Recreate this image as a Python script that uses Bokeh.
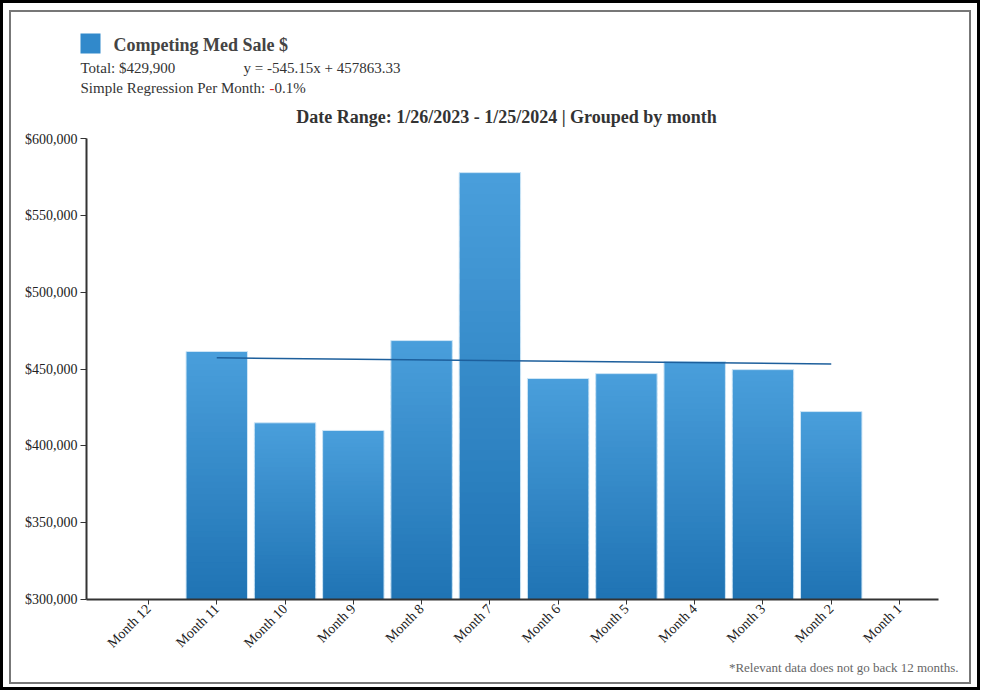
import math
from bokeh.plotting import figure
from bokeh.layouts import column
from bokeh.models import (Range1d, FixedTicker, NumeralTickFormatter, Label,
                          BoxAnnotation)
from bokeh.embed import file_html
from bokeh.resources import INLINE

# ---- data ----
months = ["Month 12", "Month 11", "Month 10", "Month 9", "Month 8", "Month 7",
          "Month 6", "Month 5", "Month 4", "Month 3", "Month 2", "Month 1"]
sales = [None, 461400, 415000, 410000, 468500, 577800,
         443800, 447000, 454800, 449600, 422300, None]
reg_months = ["Month 11", "Month 2"]
reg_values = [457300, 453300]
y_ticks = [300000, 350000, 400000, 450000, 500000, 550000, 600000]

FONT = "Liberation Serif"
Y0, Y1 = 300000, 600000
X0, X1 = -0.908, 11.571
CW = 958          # content width inside the grey frame
HH = 119          # header height
MH = 527          # main chart height
FH = 24           # footer height

def blank(height):
    f = figure(width=CW, height=height, output_backend="svg",
               toolbar_location=None, x_range=Range1d(0, CW),
               y_range=Range1d(height, 0), x_axis_location=None,
               y_axis_location=None, min_border=0)
    f.outline_line_color = None
    f.xgrid.grid_line_color = None
    f.ygrid.grid_line_color = None
    f.border_fill_color = "white"
    if "frame_align" in f.properties():
        f.frame_align = False
    return f

# ---- header ----
hd = blank(HH)

def lab(f, x, y, text, size, bold=False, color="#444444", align="left"):
    f.add_layout(Label(x=x, y=y, text=text, text_font=FONT,
                       text_font_size=size,
                       text_font_style="bold" if bold else "normal",
                       text_color=color, text_align=align,
                       text_baseline="middle"))

hd.add_layout(BoxAnnotation(left=69, right=89, top=21, bottom=41,
                            fill_color="#3189cb", fill_alpha=1,
                            line_color=None))
lab(hd, 102, 32, "Competing Med Sale $", "18px", bold=True, color="#444444")
lab(hd, 69, 55, "Total: $429,900", "15px", color="#333333")
lab(hd, 232, 55, "y = -545.15x + 457863.33", "15px", color="#333333")
lab(hd, 69, 75, "Simple Regression Per Month: ", "15px", color="#333333")
lab(hd, 258, 75, "-", "15px", color="#e02020")
lab(hd, 263, 75, "0.1%", "15px", color="#333333")
lab(hd, 495, 104, "Date Range: 1/26/2023 - 1/25/2024 | Grouped by month",
    "18px", bold=True, color="#333333", align="center")

# ---- main chart ----
p = figure(width=CW, height=MH, output_backend="svg", toolbar_location=None,
           x_range=Range1d(X0, X1), y_range=Range1d(Y0, Y1),
           min_border_left=75, min_border_right=31, min_border_top=7,
           min_border_bottom=59)
p.outline_line_color = None
p.xgrid.grid_line_color = None
p.ygrid.grid_line_color = None
p.border_fill_color = "white"

top_c = (74, 159, 220)
bot_c = (31, 115, 179)
N = 40
xs, bots, tops, cols = [], [], [], []
for i, v in enumerate(sales):
    if v is None:
        continue
    step = (v - Y0) / N
    for k in range(N):
        b = Y0 + step * k
        t = min(v, Y0 + step * (k + 1.6))
        f = (k + 0.5) / N
        c = tuple(int(round(bot_c[j] + (top_c[j] - bot_c[j]) * f)) for j in range(3))
        xs.append(i); bots.append(b); tops.append(t)
        cols.append("#%02x%02x%02x" % c)
p.vbar(x=xs, bottom=bots, top=tops, width=0.9, fill_color=cols, line_color=None)

bx = [i for i, v in enumerate(sales) if v is not None]
bv = [v for v in sales if v is not None]
p.vbar(x=bx, bottom=Y0, top=bv, width=0.9, fill_color=None,
       line_color="#cfe6f6", line_width=1)

p.line(x=[months.index(m) for m in reg_months], y=reg_values,
       line_color="#1d5f9c", line_width=1.5)

xa = p.xaxis[0]
xa.ticker = FixedTicker(ticks=list(range(len(months))))
xa.major_label_overrides = {i: m for i, m in enumerate(months)}
xa.major_label_orientation = math.pi / 4
xa.minor_tick_line_color = None
xa.axis_line_color = "#333333"
xa.axis_line_width = 2
xa.major_tick_line_color = "#333333"
xa.major_tick_in = 0
xa.major_tick_out = 5
xa.major_label_text_font = FONT
xa.major_label_text_font_size = "14px"
xa.major_label_text_color = "#222222"
xa.major_label_standoff = 2

ya = p.yaxis[0]
ya.ticker = FixedTicker(ticks=y_ticks)
ya.formatter = NumeralTickFormatter(format="$0,0")
ya.minor_tick_line_color = None
ya.axis_line_color = "#333333"
ya.axis_line_width = 2
ya.major_tick_line_color = "#333333"
ya.major_tick_in = 0
ya.major_tick_out = 6
ya.major_label_text_font = FONT
ya.major_label_text_font_size = "14px"
ya.major_label_text_color = "#222222"
ya.major_label_standoff = 3

# ---- footer ----
ft = blank(FH)
lab(ft, 947, 9, "*Relevant data does not go back 12 months.", "13px",
    color="#666666", align="right")

inner = column(hd, p, ft, spacing=0,
               styles={"border": "2px solid #777777"})
outer = column(inner, spacing=0,
               styles={"border": "3px solid #000000",
                       "padding": "7px 6px 3px 6px",
                       "background-color": "white"})

open("out.html", "w").write(file_html(outer, INLINE))
